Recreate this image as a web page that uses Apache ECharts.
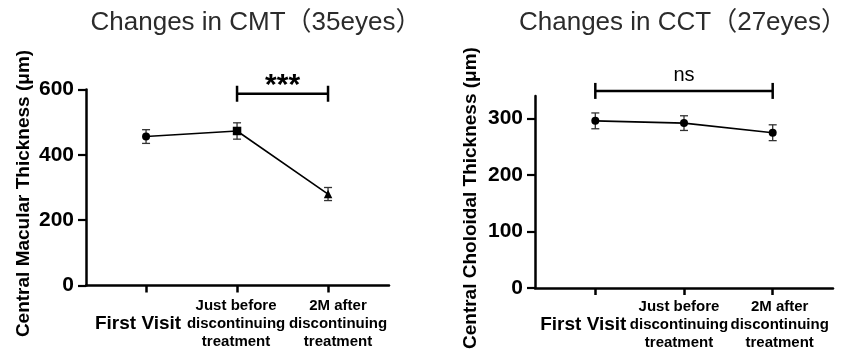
<!DOCTYPE html>
<html>
<head>
<meta charset="utf-8">
<script src="https://cdn.jsdelivr.net/npm/echarts@6/dist/echarts.min.js"></script>
<style>
  html, body { margin: 0; padding: 0; background: #fff; }
  #chart { width: 845px; height: 351px; }
</style>
</head>
<body>
<div id="chart"></div>
<script>
// --- data ---
var categories = ['First Visit', 'Just before\ndiscontinuing\ntreatment', '2M after\ndiscontinuing\ntreatment'];
var cmtMean = [456, 473, 280];
var cmtErr = [21, 25, 20];
var cmtSymbols = ['circle', 'rect', 'triangle'];
var cctMean = [296, 292, 275];
var cctErr = [14, 13, 14];
var cmtTicks = [0, 200, 400, 600];
var cctTicks = [0, 100, 200, 300];
var cmtSig = [1, 2, 587];   // from category, to category, bracket height
var cmtSigText = '***';
var cctSig = [0, 2, 349];
var cctSigText = 'ns';

var FONT = '"Liberation Sans", Arial, "Noto Sans CJK SC", sans-serif';

var myChart = echarts.init(document.getElementById('chart'));

// label shifts (px) so the labels spread out like in the figure
var leftShift = [-8, -1, 10];
var rightShift = [-12, -5, 7];

var labelRich = function(pad) {
    return {
        big: { fontSize: 19, fontWeight: 'bold', lineHeight: 54, fontFamily: FONT, color: '#000', padding: pad },
        small: { fontSize: 15, fontWeight: 'bold', lineHeight: 18, fontFamily: FONT, color: '#000', padding: pad }
    };
};

// main x axis: only the long axis line
var xAxisLine = function(gridIndex, min, max) {
    return {
        type: 'value', gridIndex: gridIndex, min: min, max: max, position: 'bottom', offset: 0,
        splitLine: { show: false },
        axisLine: { show: true, onZero: false, lineStyle: { color: '#000', width: 2.5 } },
        axisTick: { show: false },
        axisLabel: { show: false }
    };
};

// one axis per category so labels are never dropped for overlapping
var xAxisLabel = function(gridIndex, min, max, i, shift, margin) {
    var pad = shift < 0 ? [0, -2 * shift, 0, 0] : [0, 0, 0, 2 * shift];
    var style = i === 0 ? 'big' : 'small';
    return {
        type: 'value', gridIndex: gridIndex, min: min, max: max, position: 'bottom', offset: 0,
        splitLine: { show: false },
        axisLine: { show: false, onZero: false },
        axisTick: { show: true, customValues: [i], length: 7, lineStyle: { color: '#000', width: 2.5 } },
        axisLabel: {
            customValues: [i],
            showMinLabel: true,
            showMaxLabel: true,
            margin: margin,
            formatter: function() {
                return categories[i].split('\n').map(function(line) {
                    return '{' + style + '|' + line + '}';
                }).join('\n');
            },
            rich: labelRich(pad)
        }
    };
};

var yAxisBase = function(gridIndex, max, interval, ticks, name, nameGap) {
    return {
        type: 'value',
        gridIndex: gridIndex,
        min: 0,
        max: max,
        interval: interval,
        name: name,
        nameLocation: 'middle',
        nameRotate: 90,
        nameGap: nameGap,
        nameTextStyle: { fontSize: 19, fontWeight: 'bold', color: '#000', fontFamily: FONT, padding: [0, 12, 0, 0] },
        splitLine: { show: false },
        axisLine: { show: true, onZero: false, lineStyle: { color: '#000', width: 2.5 } },
        axisTick: { show: true, customValues: ticks, length: 8, lineStyle: { color: '#000', width: 2.2 } },
        axisLabel: { customValues: ticks, margin: 12, fontSize: 21, fontWeight: 'bold', color: '#000', fontFamily: FONT }
    };
};

var errorRender = function(params, api) {
    var x = api.value(0);
    var top = api.coord([x, api.value(2)]);
    var bot = api.coord([x, api.value(1)]);
    var w = 4;
    var st = { stroke: '#333', lineWidth: 1.3 };
    return {
        type: 'group',
        children: [
            { type: 'line', shape: { x1: top[0], y1: top[1], x2: bot[0], y2: bot[1] }, style: st },
            { type: 'line', shape: { x1: top[0] - w, y1: top[1], x2: top[0] + w, y2: top[1] }, style: st },
            { type: 'line', shape: { x1: bot[0] - w, y1: bot[1], x2: bot[0] + w, y2: bot[1] }, style: st }
        ]
    };
};

var bracketRender = function(text, textStyle, textGap) {
    return function(params, api) {
        var a = api.coord([api.value(0), api.value(2)]);
        var b = api.coord([api.value(1), api.value(2)]);
        var h = 8;
        var st = { stroke: '#000', lineWidth: 2.5 };
        return {
            type: 'group',
            children: [
                { type: 'line', shape: { x1: a[0], y1: a[1], x2: b[0], y2: b[1] }, style: st },
                { type: 'line', shape: { x1: a[0], y1: a[1] - h, x2: a[0], y2: a[1] + h }, style: st },
                { type: 'line', shape: { x1: b[0], y1: b[1] - h, x2: b[0], y2: b[1] + h }, style: st },
                {
                    type: 'text',
                    style: Object.assign({
                        text: text,
                        x: (a[0] + b[0]) / 2,
                        y: a[1] - textGap,
                        align: 'center',
                        verticalAlign: 'middle',
                        fill: '#000',
                        fontFamily: FONT
                    }, textStyle)
                }
            ]
        };
    };
};

var toPoints = function(mean) {
    return mean.map(function(v, i) { return [i, v]; });
};
var toErr = function(mean, err) {
    return mean.map(function(v, i) { return [i, v - err[i], v + err[i]]; });
};

var L = [-0.66, 2.67];
var R = [-0.68, 2.68];

var option = {
    animation: false,
    backgroundColor: '#fff',
    textStyle: { fontFamily: FONT },
    title: [
        { text: 'Changes in CMT（35eyes）', left: 256, top: 10, textAlign: 'center', padding: 0,
          textStyle: { fontSize: 26, fontWeight: 'normal', color: '#2b2b2b', fontFamily: FONT } },
        { text: 'Changes in CCT（27eyes）', left: 683, top: 10, textAlign: 'center', padding: 0,
          textStyle: { fontSize: 26, fontWeight: 'normal', color: '#2b2b2b', fontFamily: FONT } }
    ],
    grid: [
        { left: 86, top: 89.5, width: 303, bottom: 65.5 },
        { left: 535, top: 96, width: 298, bottom: 62.7 }
    ],
    xAxis: [
        xAxisLine(0, L[0], L[1]),
        xAxisLine(1, R[0], R[1]),
        xAxisLabel(0, L[0], L[1], 0, leftShift[0], 11),
        xAxisLabel(0, L[0], L[1], 1, leftShift[1], 11),
        xAxisLabel(0, L[0], L[1], 2, leftShift[2], 11),
        xAxisLabel(1, R[0], R[1], 0, rightShift[0], 9.5),
        xAxisLabel(1, R[0], R[1], 1, rightShift[1], 9.5),
        xAxisLabel(1, R[0], R[1], 2, rightShift[2], 9.5)
    ],
    yAxis: [
        yAxisBase(0, 600, 200, cmtTicks, 'Central Macular Thickness (μm)', 53),
        yAxisBase(1, 340, 100, cctTicks, 'Central Choloidal Thickness (μm)', 55)
    ],
    series: [
        {
            type: 'custom', xAxisIndex: 0, yAxisIndex: 0, z: 1, clip: false,
            renderItem: errorRender, encode: { x: 0, y: [1, 2] },
            data: toErr(cmtMean, cmtErr)
        },
        {
            type: 'line', xAxisIndex: 0, yAxisIndex: 0, z: 2,
            lineStyle: { color: '#000', width: 1.6 },
            itemStyle: { color: '#000' },
            symbolSize: 8,
            data: toPoints(cmtMean).map(function(p, i) {
                return { value: p, symbol: cmtSymbols[i], symbolSize: cmtSymbols[i] === 'circle' ? 8 : 8.5 };
            })
        },
        {
            type: 'custom', xAxisIndex: 0, yAxisIndex: 0, clip: false,
            renderItem: bracketRender(cmtSigText, { fontSize: 30, fontWeight: 'bold' }, 8),
            encode: { x: [0, 1], y: 2 },
            data: [cmtSig]
        },
        {
            type: 'custom', xAxisIndex: 1, yAxisIndex: 1, z: 1, clip: false,
            renderItem: errorRender, encode: { x: 0, y: [1, 2] },
            data: toErr(cctMean, cctErr)
        },
        {
            type: 'line', xAxisIndex: 1, yAxisIndex: 1, z: 2,
            lineStyle: { color: '#000', width: 1.6 },
            itemStyle: { color: '#000' },
            symbol: 'circle',
            symbolSize: 8,
            data: toPoints(cctMean)
        },
        {
            type: 'custom', xAxisIndex: 1, yAxisIndex: 1, clip: false,
            renderItem: bracketRender(cctSigText, { fontSize: 20, fontWeight: 'normal' }, 15),
            encode: { x: [0, 1], y: 2 },
            data: [cctSig]
        }
    ]
};

myChart.setOption(option);
</script>
</body>
</html>
